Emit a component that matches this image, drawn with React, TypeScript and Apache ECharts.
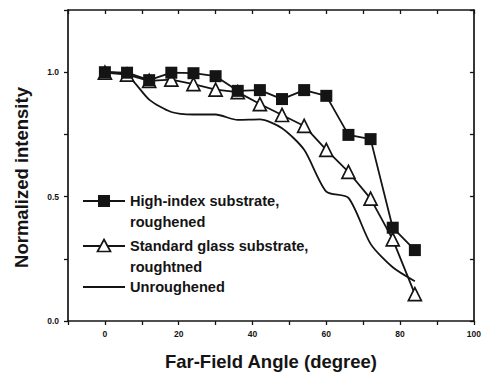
import React, { useEffect, useRef } from "react";
import * as echarts from "echarts";

const angles = [0, 6, 12, 18, 24, 30, 36, 42, 48, 54, 60, 66, 72, 78, 84];
const highIndex = [1.0, 0.998, 0.968, 0.998, 0.996, 0.984, 0.925, 0.928, 0.892, 0.928, 0.905, 0.748, 0.731, 0.375, 0.285];
const standardGlass = [0.998, 0.99, 0.965, 0.97, 0.952, 0.93, 0.92, 0.872, 0.828, 0.784, 0.688, 0.599, 0.492, 0.328, 0.108];
const unroughened = [1.0, 0.988, 0.89, 0.84, 0.83, 0.83, 0.808, 0.81, 0.775, 0.688, 0.52, 0.495, 0.31, 0.216, 0.16];
const xTickLabels = ["0", "20", "40", "60", "80", "100"];
const yTickLabels = ["0.0", "0.5", "1.0"];
const legendNames = [
  ["High-index substrate,", "roughened"],
  ["Standard glass substrate,", "roughtned"],
  ["Unroughened"],
];

const FONT = "'Liberation Sans', Arial, sans-serif";
const INK = "#141414";

export default function App() {
  const ref = useRef<HTMLDivElement>(null);
  useEffect(() => {
    if (!ref.current) return;
    const chart = echarts.init(ref.current, null, { renderer: "svg" });
    const pair = (ys: number[]) => angles.map((a, i) => [a, ys[i]]);
    const axisLine = { show: true, onZero: false, lineStyle: { color: INK, width: 1.7 } };
    const legendX = 83;
    const legendText = (lines: string[], y: number) =>
      lines.map((t, j) => ({
        type: "text",
        x: 130,
        y: y + j * 20.5,
        style: { text: t, font: `600 14.6px ${FONT}`, fill: INK, verticalAlign: "middle" },
      }));
    chart.setOption({
      animation: false,
      backgroundColor: "#fff",
      grid: { left: 68, right: 9, top: 10, bottom: 54, containLabel: false },
      xAxis: [
        {
          type: "value",
          min: -10,
          max: 100,
          interval: 10,
          position: "bottom",
          name: "Far-Field Angle (degree)",
          nameLocation: "middle",
          nameGap: 31,
          nameTextStyle: { fontFamily: FONT, fontSize: 18.5, fontWeight: 600, color: INK },
          axisLine,
          axisTick: { show: true, inside: false, length: 4, lineStyle: { color: INK, width: 1.3 } },
          axisLabel: {
            fontFamily: FONT,
            fontSize: 8.5,
            fontWeight: "bold",
            color: INK,
            margin: 8,
            formatter: (v: number) => {
              const s = String(Math.round(v));
              return xTickLabels.includes(s) ? s : "";
            },
          },
          splitLine: { show: false },
        },
        {
          type: "value",
          min: -10,
          max: 100,
          interval: 10,
          position: "top",
          axisLine,
          axisTick: { show: true, inside: true, length: 4, lineStyle: { color: INK, width: 1.3 } },
          axisLabel: { show: false },
          splitLine: { show: false },
        },
      ],
      yAxis: [
        {
          type: "value",
          min: 0,
          max: 1.25,
          interval: 0.25,
          position: "left",
          name: "Normalized intensity",
          nameLocation: "middle",
          nameGap: 37,
          nameRotate: 90,
          nameTextStyle: { fontFamily: FONT, fontSize: 18.5, fontWeight: 600, color: INK, padding: [0, 24, 0, 0] },
          axisLine,
          axisTick: { show: true, inside: false, length: 4, lineStyle: { color: INK, width: 1.3 } },
          axisLabel: {
            fontFamily: FONT,
            fontSize: 8.5,
            fontWeight: "bold",
            color: INK,
            margin: 9,
            formatter: (v: number) => {
              const s = v.toFixed(1);
              return yTickLabels.includes(s) && Math.abs(v * 2 - Math.round(v * 2)) < 1e-6 ? s : "";
            },
          },
          splitLine: { show: false },
        },
        {
          type: "value",
          min: 0,
          max: 1.25,
          interval: 0.25,
          position: "right",
          axisLine,
          axisTick: { show: true, inside: true, length: 4, lineStyle: { color: INK, width: 1.3 } },
          axisLabel: { show: false },
          splitLine: { show: false },
        },
      ],
      series: [
        {
          name: "Unroughened",
          type: "line",
          data: pair(unroughened),
          showSymbol: false,
          symbol: "none",
          smooth: 0.25,
          lineStyle: { color: INK, width: 1.8 },
          z: 2,
        },
        {
          name: "Standard glass substrate, roughtned",
          type: "line",
          data: pair(standardGlass),
          symbol: "triangle",
          symbolSize: 13,
          itemStyle: { color: "#fff", borderColor: INK, borderWidth: 1.7 },
          lineStyle: { color: INK, width: 1.8 },
          z: 3,
        },
        {
          name: "High-index substrate, roughened",
          type: "line",
          data: pair(highIndex),
          symbol: "rect",
          symbolSize: 12,
          itemStyle: { color: INK, borderColor: INK, borderWidth: 0 },
          lineStyle: { color: INK, width: 1.8 },
          z: 4,
        },
      ],
      graphic: [
        { type: "line", shape: { x1: legendX, y1: 201, x2: 125, y2: 201 }, style: { stroke: INK, lineWidth: 1.8 } },
        { type: "rect", shape: { x: 98, y: 195, width: 12, height: 12 }, style: { fill: INK } },
        ...legendText(legendNames[0], 201),
        { type: "line", shape: { x1: legendX, y1: 246, x2: 125, y2: 246 }, style: { stroke: INK, lineWidth: 1.8 } },
        {
          type: "polygon",
          shape: { points: [[104, 239.5], [110.5, 251.5], [97.5, 251.5]] },
          style: { fill: "#fff", stroke: INK, lineWidth: 1.7 },
        },
        ...legendText(legendNames[1], 246),
        { type: "line", shape: { x1: legendX, y1: 287, x2: 125, y2: 287 }, style: { stroke: INK, lineWidth: 1.8 } },
        ...legendText(legendNames[2], 287),
      ],
    });
    return () => chart.dispose();
  }, []);
  return <div ref={ref} style={{ width: 484, height: 376, position: "absolute", left: 0, top: 0 }} />;
}
